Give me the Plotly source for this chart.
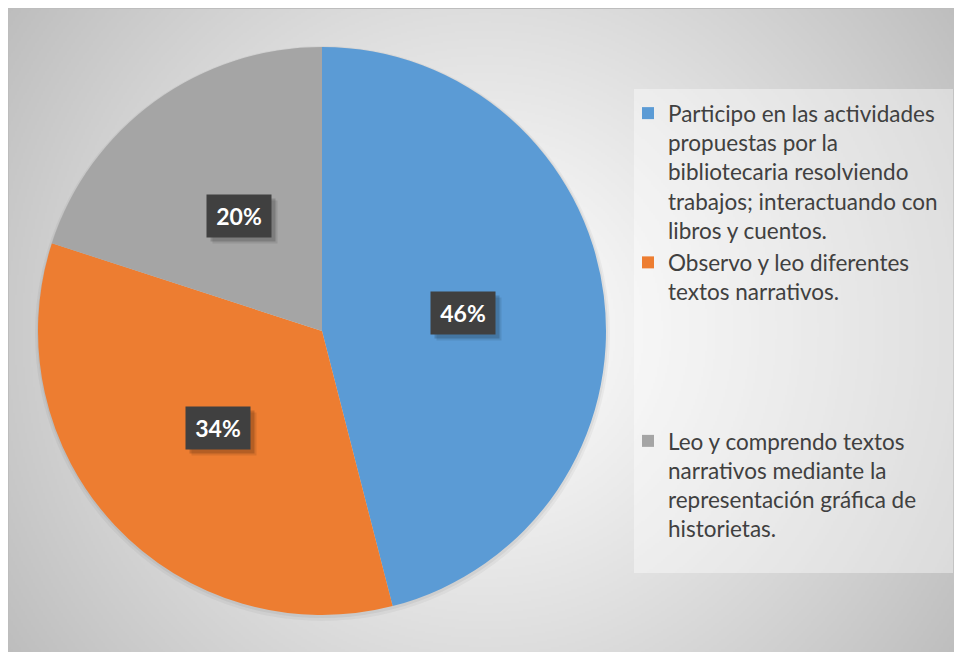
import base64
import struct
import zlib
import math

import numpy as np
import plotly.graph_objects as go

# ---------------- data ----------------
categories = [
    "Participo en las actividades propuestas por la bibliotecaria resolviendo trabajos; interactuando con libros y cuentos.",
    "Observo y leo diferentes textos narrativos.",
    "Leo y comprendo textos narrativos mediante la representación gráfica de historietas.",
]
legend_labels = [
    "Participo en las actividades<br>propuestas por la<br>bibliotecaria resolviendo<br>trabajos; interactuando con<br>libros y cuentos.",
    "Observo y leo diferentes<br>textos narrativos.",
    "Leo y comprendo textos<br>narrativos mediante la<br>representación gráfica de<br>historietas.",
]
values = [46, 34, 20]
pct_labels = ["46%", "34%", "20%"]
colors = ["#5B9BD5", "#ED7D31", "#A5A5A5"]

# ---------------- geometry / style (figure pixels) ----------------
W, H = 962, 652
CX, CY, R = 314, 323, 284          # pie centre and radius
legend_pad = [0, 4, 0]             # blank lines appended to legend entries (spacing)


def px_x(x):
    return x / W


def px_y(y):
    return 1 - y / H


# radial gradient background as a small PNG
def make_png(arr):
    h, w, _ = arr.shape
    raw = b"".join(b"\x00" + arr[i].tobytes() for i in range(h))

    def chunk(t, d):
        c = struct.pack(">I", len(d)) + t + d
        return c + struct.pack(">I", zlib.crc32(t + d) & 0xFFFFFFFF)

    return (b"\x89PNG\r\n\x1a\n"
            + chunk(b"IHDR", struct.pack(">IIBBBBB", w, h, 8, 2, 0, 0, 0))
            + chunk(b"IDAT", zlib.compress(raw, 9))
            + chunk(b"IEND", b""))


gw, gh = W // 2, H // 2
yy, xx = np.mgrid[0:gh, 0:gw]
dx = (xx + 0.5) * 2 - 477
dy = (yy + 0.5) * 2 - 322
d = np.sqrt(dx ** 2 + dy ** 2) / 580.0
val = 255 - 66 * np.clip(d, 0, 1.2) ** 1.15
val = np.clip(val, 0, 255).astype(np.uint8)
img = np.stack([val, val, val], axis=-1)
bg_uri = "data:image/png;base64," + base64.b64encode(make_png(img)).decode()

fig = go.Figure()

fig.add_trace(go.Pie(
    labels=[lab + "<br>&nbsp;" * p for lab, p in zip(legend_labels, legend_pad)],
    values=values,
    sort=False,
    direction="clockwise",
    rotation=0,
    textinfo="none",
    hoverinfo="skip",
    marker=dict(colors=colors, line=dict(width=0)),
    domain=dict(x=[px_x(CX - R), px_x(CX + R)], y=[px_y(CY + R), px_y(CY - R)]),
))

# percentage label boxes at mid-angle of each slice
annotations = []
total = sum(values)
cum = 0
for v, t in zip(values, pct_labels):
    mid = (cum + v / 2) / total * 2 * math.pi
    cum += v
    lx = CX + 0.5 * R * math.sin(mid)
    ly = CY - 0.5 * R * math.cos(mid)
    for sx, a in [(6, 0.09), (4, 0.16)]:
        annotations.append(dict(
            x=px_x(lx), y=px_y(ly), xref="paper", yref="paper",
            xanchor="center", yanchor="middle",
            text=" ", showarrow=False, width=60, height=38, borderpad=2,
            bgcolor=f"rgba(0,0,0,{a})", xshift=sx, yshift=-sx,
        ))
    annotations.append(dict(
        x=px_x(lx), y=px_y(ly), xref="paper", yref="paper",
        xanchor="center", yanchor="middle",
        text=f"<b>{t}</b>", showarrow=False, width=60, height=38, borderpad=2,
        bgcolor="#404040",
        font=dict(family="Lato", size=23, color="white"),
    ))

shapes = [
    # chart area outline
    dict(type="rect", xref="paper", yref="paper",
         x0=px_x(0.5), x1=1.02, y0=-0.02, y1=px_y(0.5),
         line=dict(color="#bdbdbd", width=1), fillcolor="rgba(0,0,0,0)", layer="below"),
    # soft pie shadow
    dict(type="circle", xref="paper", yref="paper",
         x0=px_x(CX - R - 3), x1=px_x(CX + R + 4), y0=px_y(CY + R + 6), y1=px_y(CY - R - 1),
         fillcolor="rgba(0,0,0,0.04)", line=dict(width=0), layer="below"),
    dict(type="circle", xref="paper", yref="paper",
         x0=px_x(CX - R - 1), x1=px_x(CX + R + 2), y0=px_y(CY + R + 3), y1=px_y(CY - R),
         fillcolor="rgba(0,0,0,0.05)", line=dict(width=0), layer="below"),
    # legend background box
    dict(type="rect", xref="paper", yref="paper",
         x0=px_x(626), x1=px_x(945), y0=px_y(565), y1=px_y(81),
         fillcolor="rgba(255,255,255,0.4)", line=dict(width=0), layer="below"),
]

fig.update_layout(
    width=W, height=H,
    margin=dict(l=0, r=0, t=0, b=0),
    paper_bgcolor="white",
    plot_bgcolor="rgba(0,0,0,0)",
    showlegend=True,
    legend=dict(
        x=px_x(620), y=px_y(84), xanchor="left", yanchor="top",
        bgcolor="rgba(0,0,0,0)", valign="top",
        font=dict(family="Lato", size=22.5, color="#404040"),
    ),
    images=[dict(
        source=bg_uri, xref="paper", yref="paper",
        x=0, y=1, sizex=1, sizey=1,
        xanchor="left", yanchor="top", sizing="stretch", layer="below",
    )],
    shapes=shapes,
    annotations=annotations,
)

fig.write_html("out.html", config={"displayModeBar": False})
